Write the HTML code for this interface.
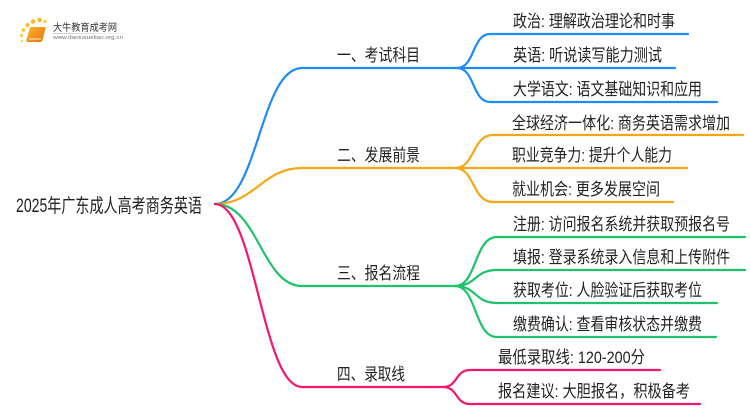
<!DOCTYPE html>
<html>
<head>
<meta charset="utf-8">
<style>
html,body{margin:0;padding:0;background:#fff;}
svg{display:block;}
text{font-family:"Liberation Sans","Noto Sans CJK SC",sans-serif;fill:#222;}
</style>
</head>
<body>
<svg width="750" height="410" viewBox="0 0 750 410" xmlns="http://www.w3.org/2000/svg">
<defs>
<linearGradient id="bk" x1="0" y1="0" x2="1" y2="1">
<stop offset="0" stop-color="#fbb531"/>
<stop offset="1" stop-color="#e8720c"/>
</linearGradient>
<linearGradient id="gl" x1="0" y1="0" x2="1" y2="0">
<stop offset="0" stop-color="#bbb"/>
<stop offset="1" stop-color="#fff"/>
</linearGradient>
</defs>

<!-- logo -->
<g>
<circle cx="22" cy="41" r="1.2" fill="#f9d04a"/>
<circle cx="21.5" cy="35.5" r="1.5" fill="#f9c93a"/>
<circle cx="23.5" cy="30" r="1.8" fill="#f8c22c"/>
<circle cx="27.5" cy="25" r="2" fill="#f8bc22"/>
<circle cx="33" cy="21.5" r="2.2" fill="#f8b61c"/>
<circle cx="39.5" cy="20" r="2.2" fill="#f8b61c"/>
<circle cx="45" cy="21.5" r="1.6" fill="#f9c93a"/>
<path d="M31,27 L44,27 Q46,27 45.5,29 L42.5,40 Q42,42 40,42 L28,42 Q26,42 26.5,40 L29.5,29 Q30,27 31,27 Z" fill="url(#bk)"/>
<path d="M29,39 L41,39" stroke="#fff3d0" stroke-width="1"/>
<text x="53" y="31" font-size="10" style="fill:#333" textLength="64" lengthAdjust="spacingAndGlyphs">大牛教育成考网</text>
<rect x="53" y="33" width="80" height="0.8" fill="url(#gl)"/>
<text x="53" y="39" font-size="5.5" style="fill:#777" textLength="70" lengthAdjust="spacingAndGlyphs">www.daniuxueliao.org.cn</text>
</g>

<!-- main curves -->
<g fill="none" stroke-width="2.2" stroke-linecap="round">
<path d="M215,204 C258,204 260,68 302,68 L457,68" stroke="#1f8cf3"/>
<path d="M215,204 C255,204 262,168 302,168 L455,168" stroke="#f5a715"/>
<path d="M215,204 C258,204 262,286 302,286 L455,286" stroke="#1fc26b"/>
<path d="M215,204 C255,204 262,387 302,387 L443,387" stroke="#f5166f"/>

<!-- blue children -->
<path d="M457,68 C475,68 472,34 490,34 L688,34" stroke="#1f8cf3"/>
<path d="M457,68 L675,68" stroke="#1f8cf3"/>
<path d="M457,68 C475,68 472,102 490,102 L717,102" stroke="#1f8cf3"/>

<!-- orange children -->
<path d="M455,168 C475,168 472,135 493,135 L743,135" stroke="#f5a715"/>
<path d="M455,168 L687,168" stroke="#f5a715"/>
<path d="M455,168 C475,168 472,202 493,202 L673,202" stroke="#f5a715"/>

<!-- green children -->
<path d="M455,286 C477,286 474,237 497,237 L745,237" stroke="#1fc26b"/>
<path d="M455,286 C477,286 474,270 497,270 L745,270" stroke="#1fc26b"/>
<path d="M455,286 C477,286 474,303 497,303 L717,303" stroke="#1fc26b"/>
<path d="M455,286 C477,286 474,337 497,337 L716,337" stroke="#1fc26b"/>

<!-- pink children -->
<path d="M443,387 C458,387 455,370 470,370 L660,370" stroke="#f5166f"/>
<path d="M443,387 C458,387 455,404 470,404 L700,404" stroke="#f5166f"/>
</g>

<!-- root -->
<text x="16" y="212" font-size="19" textLength="186" lengthAdjust="spacingAndGlyphs">2025年广东成人高考商务英语</text>

<!-- level 1 -->
<g font-size="17">
<text x="337" y="61" textLength="83" lengthAdjust="spacingAndGlyphs">一、考试科目</text>
<text x="337" y="161" textLength="83" lengthAdjust="spacingAndGlyphs">二、发展前景</text>
<text x="337" y="279" textLength="83" lengthAdjust="spacingAndGlyphs">三、报名流程</text>
<text x="337" y="380" textLength="68" lengthAdjust="spacingAndGlyphs">四、录取线</text>
</g>

<!-- level 2 -->
<g font-size="17">
<text x="513" y="27" textLength="162" lengthAdjust="spacingAndGlyphs">政治: 理解政治理论和时事</text>
<text x="513" y="61" textLength="149" lengthAdjust="spacingAndGlyphs">英语: 听说读写能力测试</text>
<text x="513" y="95" textLength="189" lengthAdjust="spacingAndGlyphs">大学语文: 语文基础知识和应用</text>
<text x="512" y="129" textLength="218" lengthAdjust="spacingAndGlyphs">全球经济一体化: 商务英语需求增加</text>
<text x="512" y="161" textLength="160" lengthAdjust="spacingAndGlyphs">职业竞争力: 提升个人能力</text>
<text x="512" y="195" textLength="148" lengthAdjust="spacingAndGlyphs">就业机会: 更多发展空间</text>
<text x="513" y="230" textLength="217" lengthAdjust="spacingAndGlyphs">注册: 访问报名系统并获取预报名号</text>
<text x="513" y="263" textLength="217" lengthAdjust="spacingAndGlyphs">填报: 登录系统录入信息和上传附件</text>
<text x="513" y="296" textLength="189" lengthAdjust="spacingAndGlyphs">获取考位: 人脸验证后获取考位</text>
<text x="513" y="330" textLength="189" lengthAdjust="spacingAndGlyphs">缴费确认: 查看审核状态并缴费</text>
<text x="498" y="363" textLength="147" lengthAdjust="spacingAndGlyphs">最低录取线: 120-200分</text>
<text x="498" y="397" textLength="192" lengthAdjust="spacingAndGlyphs">报名建议: 大胆报名，积极备考</text>
</g>
</svg>
</body>
</html>
